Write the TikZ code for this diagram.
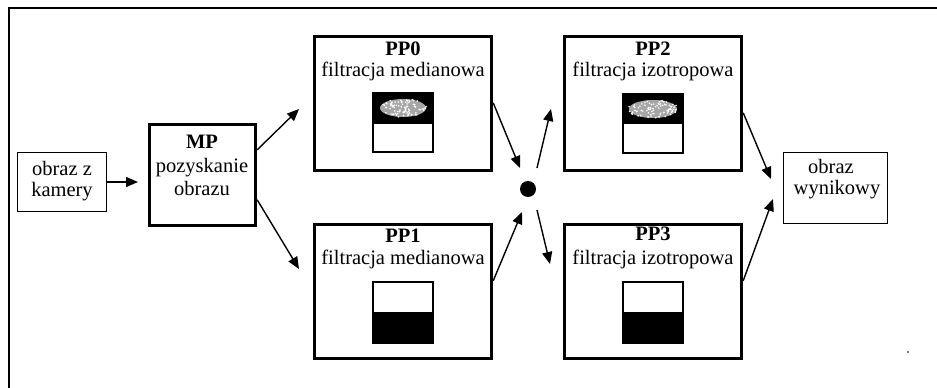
\documentclass[tikz,border=0pt]{standalone}
\usepackage{fontspec}
\setmainfont{Liberation Serif}
\usetikzlibrary{arrows.meta,calc}
\begin{document}
\begin{tikzpicture}[x=1pt,y=-1pt,
  thinbox/.style={draw,line width=1.4pt,inner sep=0pt,rectangle},
  thickbox/.style={draw,line width=3.4pt,inner sep=0pt,rectangle},
  lbl/.style={anchor=base,inner sep=0pt,font=\fontsize{20.5}{22}\selectfont},
  ttl/.style={lbl,font=\fontsize{20.5}{22}\selectfont\bfseries},
  arr/.style={line width=1.4pt,-{Triangle[length=12pt,width=10pt]}},
]
\useasboundingbox (0,0) rectangle (937,388);
\fill[white] (0,0) rectangle (937,388);
% outer frame (only top and left edges visible)
\draw[line width=1.6pt] (9,388) -- (9,8) -- (937,8);

% boxes
\node[thinbox,minimum width=89pt,minimum height=59pt] (cam) at (62,182) {};
\node[thickbox,minimum width=106pt,minimum height=101pt] (mp) at (202.5,175) {};
\node[thickbox,minimum width=177pt,minimum height=134pt] (pp0) at (403,103.5) {};
\node[thickbox,minimum width=177pt,minimum height=134pt] (pp1) at (403,291.5) {};
\node[thickbox,minimum width=177pt,minimum height=134pt] (pp2) at (653,103.5) {};
\node[thickbox,minimum width=177pt,minimum height=134pt] (pp3) at (653,291.5) {};
\node[thinbox,minimum width=104pt,minimum height=71pt] (out) at (835.5,188) {};
\node[circle,fill=black,inner sep=0pt,minimum size=16pt] (dot) at (528,189) {};

% texts
\node[lbl] (camA) at (62,175) {obraz z};
\node[lbl] (camB) at (62,196) {kamery};
\node[ttl] (mpA) at (202,148) {MP};
\node[lbl] (mpB) at (202,172) {pozyskanie};
\node[lbl] (mpC) at (202,195) {obrazu};
\node[ttl] (pp0A) at (403,55) {PP0};
\node[lbl] (pp0B) at (403,76) {filtracja medianowa};
\node[ttl] (pp1A) at (403,242) {PP1};
\node[lbl] (pp1B) at (403,264) {filtracja medianowa};
\node[ttl] (pp2A) at (653,55) {PP2};
\node[lbl] (pp2B) at (653,76) {filtracja izotropowa};
\node[ttl] (pp3A) at (653,240) {PP3};
\node[lbl] (pp3B) at (653,264) {filtracja izotropowa};
\node[lbl] (outA) at (831,173) {obraz};
\node[lbl] (outB) at (837,194) {wynikowy};

% small images inside processor boxes
\foreach \cx/\ty/\kind in {403/93/top,653/93/top,403/282/bot,653/282/bot}{
  \ifx\kind\relax\fi
}
% PP0 image
\fill[black] (373,93) rectangle (433,123);
\fill[gray!70] (403,108) ellipse (23 and 9);
\pgfmathsetseed{11}
\foreach \i in {1,...,90}{
  \pgfmathsetmacro\aa{rnd*360}\pgfmathsetmacro\rr{sqrt(rnd)}
  \fill[white] ({403+24*\rr*cos(\aa)},{108+9*\rr*sin(\aa)}) circle (0.9);
}
\draw[line width=1.2pt] (373,93) rectangle (433,152);
\draw[line width=1.0pt] (373,123) -- (433,123);
% PP2 image
\fill[black] (623,94) rectangle (683,124);
\fill[gray!70] (653,109) ellipse (24 and 9);
\pgfmathsetseed{23}
\foreach \i in {1,...,90}{
  \pgfmathsetmacro\aa{rnd*360}\pgfmathsetmacro\rr{sqrt(rnd)}
  \fill[white] ({653+25*\rr*cos(\aa)},{109+9*\rr*sin(\aa)}) circle (0.9);
}
\draw[line width=1.2pt] (623,94) rectangle (683,153);
% PP1 image
\fill[black] (373,312) rectangle (433,343);
\draw[line width=1.2pt] (373,282) rectangle (433,343);
% PP3 image
\fill[black] (623,312) rectangle (683,343);
\draw[line width=1.2pt] (623,282) rectangle (683,343);

% free arrow ends
\coordinate (e0) at (138,182);
\coordinate (e1) at (299,109);
\coordinate (e2) at (299,269);
\coordinate (e3) at (520,168);
\coordinate (e4) at (522,212);
\coordinate (e5) at (551,109);
\coordinate (e6) at (550,264);
\coordinate (e7) at (771,179);
\coordinate (e8) at (773,199);

% connectors
\draw[arr] (cam.east) -- (e0);
\draw[arr] ($(mp.north east)+(0,27)$) -- (e1);
\draw[arr] ($(mp.north east)+(0,77)$) -- (e2);
\draw[arr] ($(pp0.north east)+(0,68)$) -- (e3);
\draw[arr] ($(pp1.north east)+(0,58)$) -- (e4);
\draw[arr] ($(dot.center)+(9,-21)$) -- (e5);
\draw[arr] ($(dot.center)+(9,21)$) -- (e6);
\draw[arr] ($(pp2.north east)+(0,78)$) -- (e7);
\draw[arr] ($(pp3.north east)+(0,58)$) -- (e8);

% scan speck
\fill[black] (908,352) circle (0.9);
\end{tikzpicture}
\end{document}
